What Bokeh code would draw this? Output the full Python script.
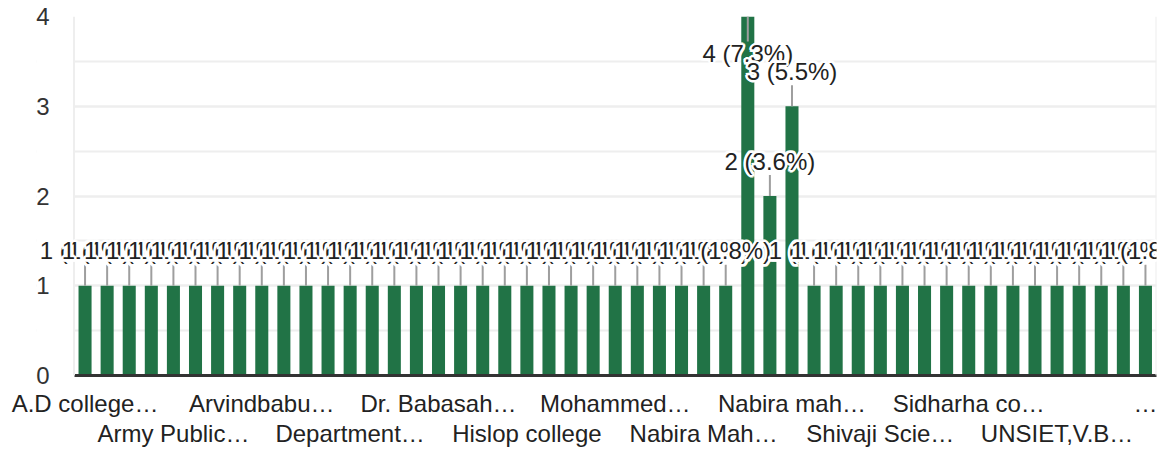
from bokeh.plotting import figure
from bokeh.models import (ColumnDataSource, FixedTicker, LinearAxis, Label, Span,
                          BoxAnnotation, SingleIntervalTicker, Range1d)
from bokeh.embed import file_html
from bokeh.resources import INLINE

# ---- data -------------------------------------------------------------
counts = [1, 1, 1, 1, 1, 1, 1, 1, 1, 1,
          1, 1, 1, 1, 1, 1, 1, 1, 1, 1,
          1, 1, 1, 1, 1, 1, 1, 1, 1, 1,
          4, 2, 3, 1, 1, 1, 1, 1, 1, 1,
          1, 1, 1, 1, 1, 1, 1, 1, 1]
tick_labels = ["A.D college…", "Army Public…", "Arvindbabu…", "Department…",
               "Dr. Babasah…", "Hislop college", "Mohammed…", "Nabira Mah…",
               "Nabira mah…", "Shivaji Scie…", "Sidharha co…", "UNSIET,V.B…", "…"]
label_every = 4
y_max = 4

# ---- layout -----------------------------------------------------------
W, H = 1159, 451
TOP, BOTTOM, LEFT, RIGHT = 16, 76, 36, 3
PLOT_LEFT = 73.5          # visible left edge of the plotting area (px)
frame_h = H - TOP - BOTTOM
ppu = frame_h / y_max

FONT = "Liberation Sans"
FS = "24px"
TXT = "#222222"
GREEN = "#217346"
GRID = "#eeeeee"

n = len(counts)
xs = list(range(n))
total = sum(counts)
texts = [f"{c} ({c / total * 100:.1f}%)" for c in counts]
below = [c >= y_max for c in counts]
y_off = [-37 if b else 35 for b in below]
lead_end = [c - 25 / ppu if b else c + 21 / ppu for c, b in zip(counts, below)]

# frame starts further left so that value labels are not cut there
unit_px = (W - RIGHT - PLOT_LEFT) / n
x_start = -0.5 - (PLOT_LEFT - LEFT) / unit_px

src = ColumnDataSource(dict(x=xs, top=counts, lend=lead_end))

p = figure(width=W, height=H, output_backend="svg", toolbar_location=None,
           x_range=Range1d(x_start, n - 0.5), y_range=Range1d(0, y_max),
           min_border_top=TOP, min_border_bottom=BOTTOM,
           min_border_left=LEFT, min_border_right=RIGHT,
           x_axis_location=None)
p.background_fill_color = "white"
p.border_fill_color = "white"
p.outline_line_color = None

# grid
p.xgrid.grid_line_color = None
p.ygrid.grid_line_color = GRID
p.ygrid.grid_line_width = 2
p.ygrid.minor_grid_line_color = GRID
p.ygrid.minor_grid_line_width = 2

# blank strip left of the plotting area
p.add_layout(BoxAnnotation(right=-0.5, fill_color="white", fill_alpha=1.0,
                           line_color=None, level="glyph"))
p.add_layout(Span(location=-0.5, dimension="height", line_color=GRID, line_width=2))
p.add_layout(Span(location=n - 0.5, dimension="height", line_color=GRID, line_width=2))

# y axis
yax = p.yaxis[0]
yax.ticker = SingleIntervalTicker(interval=1, num_minor_ticks=2)
yax.axis_line_color = None
yax.major_tick_line_color = None
yax.minor_tick_line_color = None
yax.major_label_standoff = -19
yax.major_label_text_font = FONT
yax.major_label_text_font_size = FS
yax.major_label_text_color = "#333333"

# x axes (two staggered rows)
pos1 = [i for i in range(0, n, label_every)][0::2]
pos2 = [i for i in range(0, n, label_every)][1::2]
lab_all = dict(zip(range(0, n, label_every), tick_labels))

ax1 = LinearAxis(ticker=FixedTicker(ticks=pos1),
                 major_label_overrides={i: lab_all[i] for i in pos1})
ax2 = LinearAxis(ticker=FixedTicker(ticks=pos2),
                 major_label_overrides={i: lab_all[i] for i in pos2})
for ax in (ax1, ax2):
    ax.major_tick_line_color = None
    ax.minor_tick_line_color = None
    ax.major_label_text_font = FONT
    ax.major_label_text_font_size = FS
    ax.major_label_text_color = TXT
ax1.axis_line_color = "#333333"
ax1.axis_line_width = 3
ax1.bounds = (-0.5, n - 0.5)
ax1.major_label_standoff = 8
ax2.axis_line_color = None
ax2.major_label_standoff = -6
p.add_layout(ax1, "below")
p.add_layout(ax2, "below")

# bars
p.vbar(x="x", top="top", width=0.59, bottom=0, source=src,
       fill_color=GREEN, line_color=None)

# leader lines
p.segment(x0="x", y0="top", x1="x", y1="lend", source=src,
          line_color="#9e9e9e", line_width=2)

# value labels: thick white halo then text, one bar after another
HALO = [(-2, 0), (2, 0), (0, -2), (0, 2), (-1.5, -1.5), (1.5, 1.5),
        (-1.5, 1.5), (1.5, -1.5), (0, 0)]
for xi, yi, ti, oi in zip(xs, counts, texts, y_off):
    for dx, dy in HALO:
        p.add_layout(Label(x=xi, y=yi, x_offset=dx, y_offset=oi + dy, text=ti,
                           text_align="center", text_baseline="middle",
                           text_font=FONT, text_font_size=FS,
                           text_color="white", text_outline_color="white"))
    p.add_layout(Label(x=xi, y=yi, y_offset=oi, text=ti,
                       text_align="center", text_baseline="middle",
                       text_font=FONT, text_font_size=FS, text_color=TXT))

open("out.html", "w").write(file_html(p, INLINE))
